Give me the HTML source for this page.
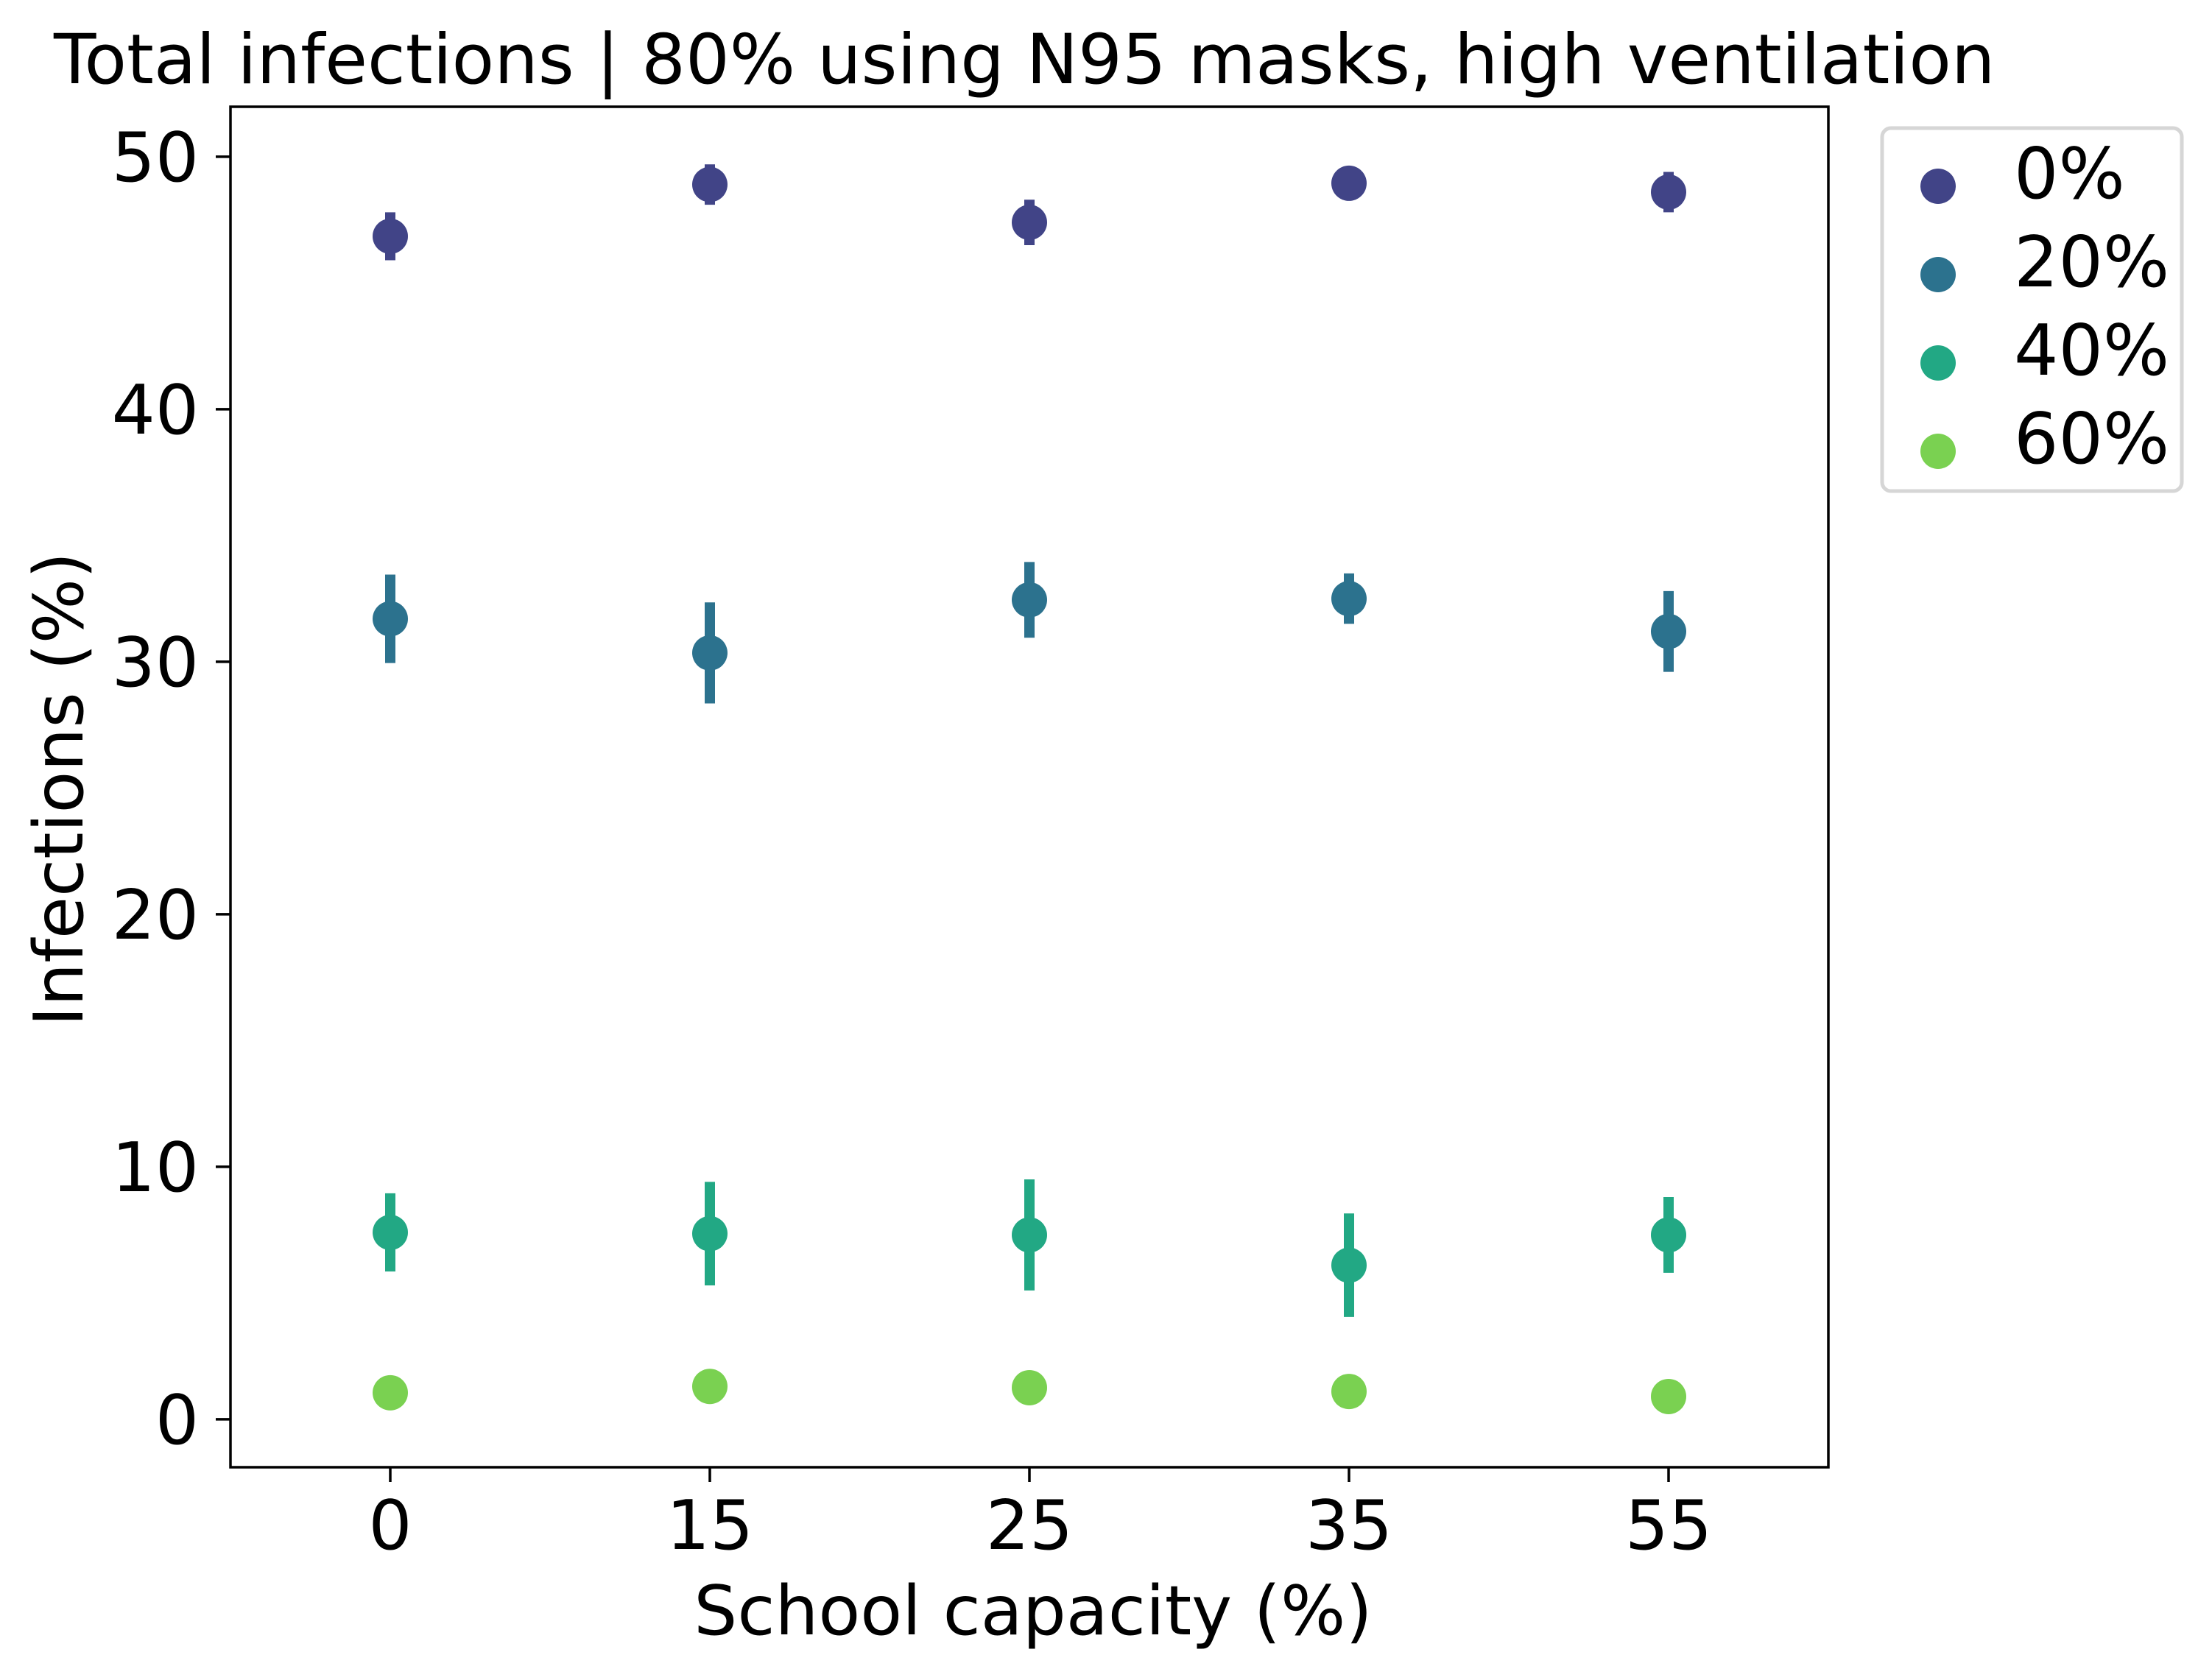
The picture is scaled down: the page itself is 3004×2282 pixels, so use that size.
<!DOCTYPE html>
<html><head><meta charset="utf-8"><style>
html,body{margin:0;padding:0;background:#fff;}
svg{display:block;font-family:"DejaVu Sans","Liberation Sans",sans-serif;}
</style></head><body>
<svg id="chart" width="3004" height="2282" viewBox="0 0 3004 2282" xmlns="http://www.w3.org/2000/svg">
<rect width="3004" height="2282" fill="#fff"/>
<text x="73" y="113" font-size="94" fill="#000">Total infections | 80% using N95 masks, high ventilation</text>
<g id="marks"></g>
<g id="axes"></g>
<text x="1403" y="2220" font-size="93" text-anchor="middle">School capacity (%)</text>
<text transform="translate(112,1072) rotate(-90)" font-size="93" text-anchor="middle">Infections (%)</text>
<g id="legend">
<rect x="2556" y="174" width="407" height="493" rx="12" fill="#fff" stroke="#d6d6d6" stroke-width="5"/>
</g>
</svg>
<script>
const categories = ["0", "15", "25", "35", "55"];
const seriesNames = ["0%", "20%", "40%", "60%"];
const seriesColors = ["#414487", "#2c728e", "#22a884", "#7ad151"];
const means0 = [46.85, 48.9, 47.4, 48.95, 48.6];
const errs0 = [0.95, 0.8, 0.9, 0.45, 0.8];
const means20 = [31.7, 30.35, 32.45, 32.5, 31.2];
const errs20 = [1.75, 2.0, 1.5, 1.0, 1.6];
const means40 = [7.4, 7.35, 7.3, 6.1, 7.3];
const errs40 = [1.55, 2.05, 2.2, 2.05, 1.5];
const means60 = [1.05, 1.3, 1.25, 1.1, 0.9];
const errs60 = [0.15, 0.2, 0.2, 0.15, 0.15];
const yTicks = [0, 10, 20, 30, 40, 50];

const NS = "http://www.w3.org/2000/svg";
const L = 313, R = 2483, T = 145, B = 1993;
const yMin = -1.9, yMax = 51.98;
function xPos(i){ return L + (i + 0.5) / categories.length * (R - L); }
function yPos(v){ return B - (v - yMin) / (yMax - yMin) * (B - T); }
function mk(tag, attrs, parent){ const e = document.createElementNS(NS, tag); for (const k in attrs) e.setAttribute(k, attrs[k]); parent.appendChild(e); return e; }

const marks = document.getElementById('marks');
const allMeans = [means0, means20, means40, means60];
const allErrs = [errs0, errs20, errs40, errs60];
allMeans.forEach((means, s) => {
  const g = mk('g', {}, marks);
  
  
  means.forEach((v, i) => {
    const x = xPos(i);
    const eb = mk('line', {x1:x, x2:x, y1:yPos(v - allErrs[s][i]), y2:yPos(v + allErrs[s][i]), stroke:seriesColors[s], 'stroke-width':14}, g);
    
    
    const c = mk('circle', {cx:x, cy:yPos(v), r:24, fill:seriesColors[s]}, g);
    
    
  });
});

const axes = document.getElementById('axes');
const frame = mk('rect', {x:L, y:T, width:R-L, height:B-T, fill:'none', stroke:'#000', 'stroke-width':3.5}, axes);


yTicks.forEach(t => {
  const y = yPos(t);
  const tk = mk('line', {x1:L-20, x2:L, y1:y, y2:y, stroke:'#000', 'stroke-width':3.5}, axes);
  
  
  const lb = mk('text', {x:L-43, y:y+33, 'font-size':93, 'text-anchor':'end'}, axes);
  lb.textContent = t;
  
  
});
categories.forEach((c, i) => {
  const x = xPos(i);
  const tk = mk('line', {x1:x, x2:x, y1:B, y2:B+20, stroke:'#000', 'stroke-width':3.5}, axes);
  
  
  const lb = mk('text', {x:x, y:2104, 'font-size':93, 'text-anchor':'middle'}, axes);
  lb.textContent = c;
  
  
});

const legend = document.getElementById('legend');
seriesNames.forEach((n, s) => {
  const y = 253 + s * 120;
  const c = mk('circle', {cx:2632, cy:y, r:24, fill:seriesColors[s]}, legend);
  
  
  const t = mk('text', {x:2735, y:y+16, 'font-size':95}, legend);
  t.textContent = n;
  
  
});
</script>
</body></html>
